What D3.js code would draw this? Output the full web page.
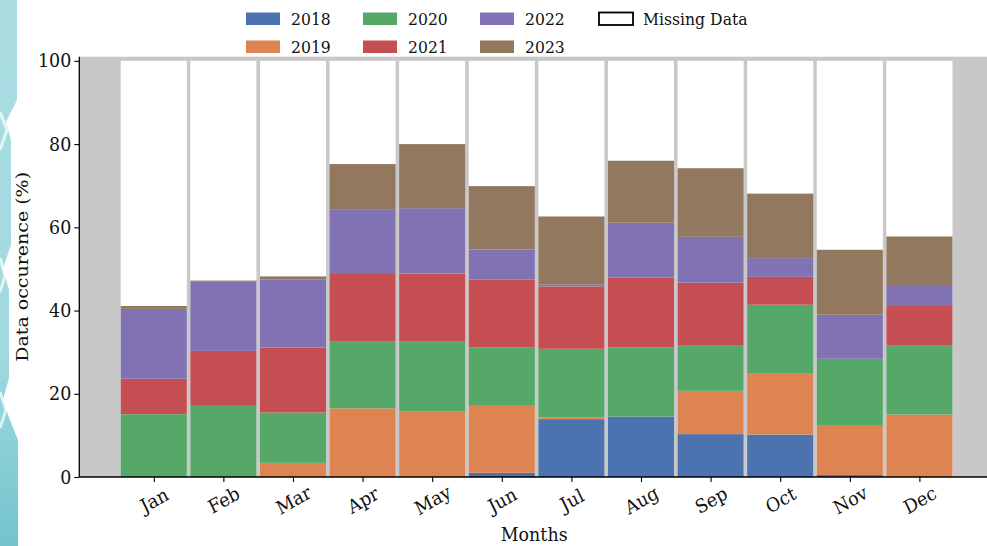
<!DOCTYPE html>
<html>
<head>
<meta charset="utf-8">
<script src="https://cdn.jsdelivr.net/npm/d3@7"></script>
<style>
  html, body { margin: 0; padding: 0; background: #ffffff; }
  svg { display: block; }
  text { font-family: "DejaVu Serif", serif; fill: #111; }
</style>
</head>
<body>
<svg id="chart" width="987" height="546"></svg>
<script>
// Monthly data occurrence (%) per year, stacked
const months = ["Jan", "Feb", "Mar", "Apr", "May", "Jun", "Jul", "Aug", "Sep", "Oct", "Nov", "Dec"];
const years = ["2018", "2019", "2020", "2021", "2022", "2023"];
const v2018 = [0, 0, 0, 0, 0, 1.0, 13.9, 14.5, 10.3, 10.2, 0.5, 0];
const v2019 = [0, 0, 3.4, 16.5, 15.7, 16.1, 0.4, 0, 10.4, 14.6, 12.0, 15.0];
const v2020 = [15.1, 17.1, 12.1, 16.0, 16.8, 14.1, 16.5, 16.7, 11.0, 16.6, 15.9, 16.7];
const v2021 = [8.5, 13.2, 15.6, 16.5, 16.4, 16.2, 15.0, 16.7, 15.0, 6.7, 0, 9.4];
const v2022 = [16.8, 16.6, 16.4, 15.2, 15.7, 7.3, 0.4, 13.2, 11.0, 4.5, 10.6, 4.8];
const v2023 = [0.7, 0.3, 0.7, 11.0, 15.4, 15.2, 16.4, 14.9, 16.5, 15.5, 15.6, 11.9];
const yTicks = [0, 20, 40, 60, 80, 100];
const colors = ["#4c72b0", "#dd8452", "#55a868", "#c44e52", "#8172b3", "#937860"];

const seriesValues = [v2018, v2019, v2020, v2021, v2022, v2023];
const rows = months.map((m, i) => {
  const r = { month: m, idx: i };
  years.forEach((yr, k) => { r[yr] = seriesValues[k][i]; });
  return r;
});

const svg = d3.select("#chart");
const squeeze = 0.92; // horizontal text narrowing

// Decorative teal edge on the left
const deco = svg.append("g");
const grad = svg.append("defs").append("linearGradient")
  .attr("id", "tealGrad").attr("x1", 0).attr("y1", 0).attr("x2", 0).attr("y2", 1);
grad.append("stop").attr("offset", "0%").attr("stop-color", "#abdee3");
grad.append("stop").attr("offset", "65%").attr("stop-color", "#a0d9df");
grad.append("stop").attr("offset", "100%").attr("stop-color", "#74c4cd");
deco.append("path")
  .attr("d", "M0,0 L17,0 L17,100 L6,122 L11,140 L11,245 L3,268 L9,290 L9,378 L3,400 L10,420 L18,440 L18,546 L0,546 Z")
  .attr("fill", "url(#tealGrad)");
deco.append("path")
  .attr("d", "M0,112 L7,130 L0,150 M0,258 L5,276 L0,292 M0,392 L6,410 L0,428")
  .attr("fill", "none").attr("stroke", "#ffffff").attr("stroke-width", 3).attr("opacity", 0.7);

// Plot geometry
const plotL = 79.3, plotR = 989, plotT = 56.7, plotB = 477;
const x = d3.scaleLinear().domain([-1.07, 12]).range([plotL, plotR]);
const y = d3.scaleLinear().domain([0, 101]).range([plotB, plotT]);
const barW = 0.95;

// Axes background
svg.append("rect")
  .attr("x", plotL).attr("y", plotT)
  .attr("width", plotR - plotL).attr("height", plotB - plotT)
  .attr("fill", "#c8c8c8");

// Missing data: white bar up to 100 behind the stacks
svg.append("g").selectAll("rect").data(rows).join("rect")
  .attr("x", d => x(d.idx - barW / 2))
  .attr("width", d => x(d.idx + barW / 2) - x(d.idx - barW / 2))
  .attr("y", y(100))
  .attr("height", y(0) - y(100))
  .attr("fill", "#ffffff");

// Stacked year bars
const stacked = d3.stack().keys(years)(rows);
svg.append("g").selectAll("g").data(stacked).join("g")
  .attr("fill", (d, i) => colors[i])
  .selectAll("rect").data(d => d).join("rect")
  .attr("x", d => x(d.data.idx - barW / 2))
  .attr("width", d => x(d.data.idx + barW / 2) - x(d.data.idx - barW / 2))
  .attr("y", d => y(d[1]))
  .attr("height", d => Math.max(0, y(d[0]) - y(d[1])));

// Y axis
const yAxis = d3.axisLeft(y).tickValues(yTicks).tickSize(5).tickPadding(4).tickFormat(d3.format("d"));
const gy = svg.append("g").attr("transform", `translate(${plotL},0)`).call(yAxis);
gy.select(".domain").attr("d", `M0,${plotT}V${plotB}`).attr("stroke", "#000").attr("stroke-width", 1.3);
gy.selectAll(".tick line").attr("stroke", "#000").attr("stroke-width", 1.1);
gy.selectAll(".tick text")
  .style("font-family", "DejaVu Serif").style("font-size", "19px").attr("fill", "#111")
  .attr("x", 0)
  .attr("transform", `translate(-8,0) scale(${squeeze},1)`);

// X axis
const xAxis = d3.axisBottom(x).tickValues(d3.range(months.length)).tickSize(5)
  .tickFormat(i => months[i]);
const gx = svg.append("g").attr("transform", `translate(0,${plotB})`).call(xAxis);
gx.select(".domain").attr("d", `M${plotL},0H${plotR}`).attr("stroke", "#000").attr("stroke-width", 1.3);
gx.selectAll(".tick line").attr("stroke", "#000").attr("stroke-width", 1.1);
gx.selectAll(".tick text")
  .style("font-family", "DejaVu Serif").style("font-size", "19px").attr("fill", "#111")
  .attr("y", 0).attr("dy", null)
  .attr("text-anchor", "middle")
  .attr("dominant-baseline", "central")
  .attr("transform", `translate(0,23) scale(${squeeze},1) rotate(-28)`);

// Axis titles
svg.append("text")
  .attr("transform", `translate(${(plotL + plotR) / 2},541) scale(${squeeze},1)`)
  .attr("text-anchor", "middle")
  .style("font-size", "19px")
  .text("Months");
svg.append("text")
  .attr("transform", `translate(28,${(plotT + plotB) / 2}) scale(${squeeze},1) rotate(-90)`)
  .attr("text-anchor", "middle")
  .style("font-size", "19px")
  .text("Data occurence (%)");

// Legend: four columns, two rows
const legendItems = years.map((yr, i) => ({ label: yr, fill: colors[i], stroke: "none" }))
  .concat([{ label: "Missing Data", fill: "#ffffff", stroke: "#000" }]);
const colX = [246, 363, 480, 598];
const rowY = [12.5, 40.5];
const lg = svg.append("g");
legendItems.forEach((it, i) => {
  const c = Math.floor(i / 2), r = i % 2;
  const g = lg.append("g").attr("transform", `translate(${colX[c]},${rowY[r]})`);
  g.append("rect")
    .attr("x", it.stroke === "none" ? 0 : 1).attr("y", 0)
    .attr("width", 34).attr("height", 12.5)
    .attr("fill", it.fill)
    .attr("stroke", it.stroke === "none" ? null : it.stroke)
    .attr("stroke-width", it.stroke === "none" ? null : 1.8);
  g.append("text")
    .attr("transform", `translate(45,6.5) scale(${squeeze},1)`)
    .attr("dominant-baseline", "central")
    .style("font-size", "17px")
    .text(it.label);
});
</script>
</body>
</html>
